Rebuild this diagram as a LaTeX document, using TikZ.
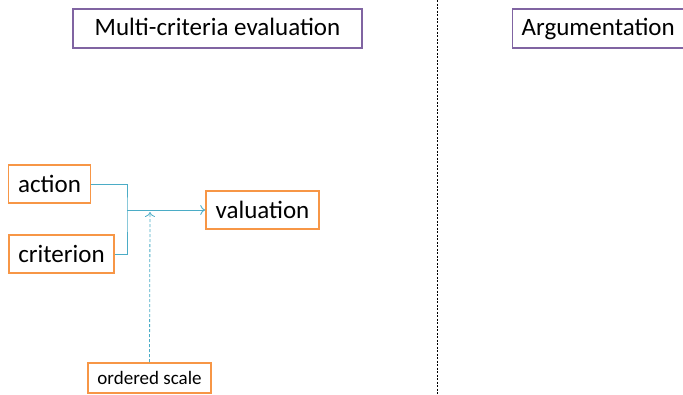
\documentclass[tikz,border=0pt]{standalone}
\usepackage{fontspec}
\setmainfont{Carlito}
\usepackage{xcolor}
\usepackage{tikz}
\usetikzlibrary{arrows.meta}
\definecolor{orange}{HTML}{F79646}
\definecolor{purple}{HTML}{8064A2}
\definecolor{lblue}{HTML}{4BACC6}
\tikzstyle{heading} = [rectangle, 
minimum height=39pt,
text height=18pt,
text depth=5pt,
text centered, 
draw=purple, 
line width=1.3pt,
font=\fontsize{25}{30}\selectfont]
\tikzstyle{concept} = [rectangle, 
minimum height=38pt, 
inner xsep=4pt,
text centered, 
draw=orange, 
line width=1.6pt,
font=\fontsize{25}{30}\selectfont]
\tikzstyle{scalebox} = [rectangle, 
minimum width=123pt, 
minimum height=30pt, 
inner xsep=4pt,
text centered, 
draw=orange, 
line width=1.6pt,
font=\fontsize{19}{23}\selectfont]
\tikzstyle{link} = [line width=0.9pt, draw=lblue]
\tikzstyle{arrow} = [link, -{To[length=5pt,width=10pt]}]
\tikzstyle{scalearrow} = [arrow, line width=0.8pt, dash pattern=on 3pt off 2pt]
\tikzstyle{divider} = [line width=0.8pt, dash pattern=on 2pt off 1.5pt]

\begin{document}
\begin{tikzpicture}[x=1pt, y=1pt]
\useasboundingbox (0,0) rectangle (683,-394);
\clip (0,0) rectangle (683,-394);
\node (mce) [heading, minimum width=289pt, xshift=217.5, yshift=-28.5] {Multi-criteria evaluation};
\node (arg) [heading, anchor=west, text width=172pt, inner xsep=9pt, align=left, xshift=512, yshift=-28.5] {Argumentation};
\node (action) [concept, minimum width=82pt, xshift=49.5, yshift=-184] {action};
\node (criterion) [concept, minimum width=105pt, xshift=61.5, yshift=-254] {criterion};
\node (valuation) [concept, minimum width=113pt, xshift=262.5, yshift=-210] {valuation};
\node (scale) [scalebox, xshift=149.5, yshift=-378] {ordered scale};
\coordinate (join) at (127,-210);
\coordinate (hit) at (150,-212);
\coordinate (top) at (437,0);
\coordinate (bottom) at (437,-394);

\draw [link] (action.east) -| (join) |- (criterion.east);
\draw [arrow] (join) -- (valuation.west);
\draw [scalearrow] (scale.north) -- (hit);
\draw [divider] (top) -- (bottom);

\end{tikzpicture}
\end{document}
